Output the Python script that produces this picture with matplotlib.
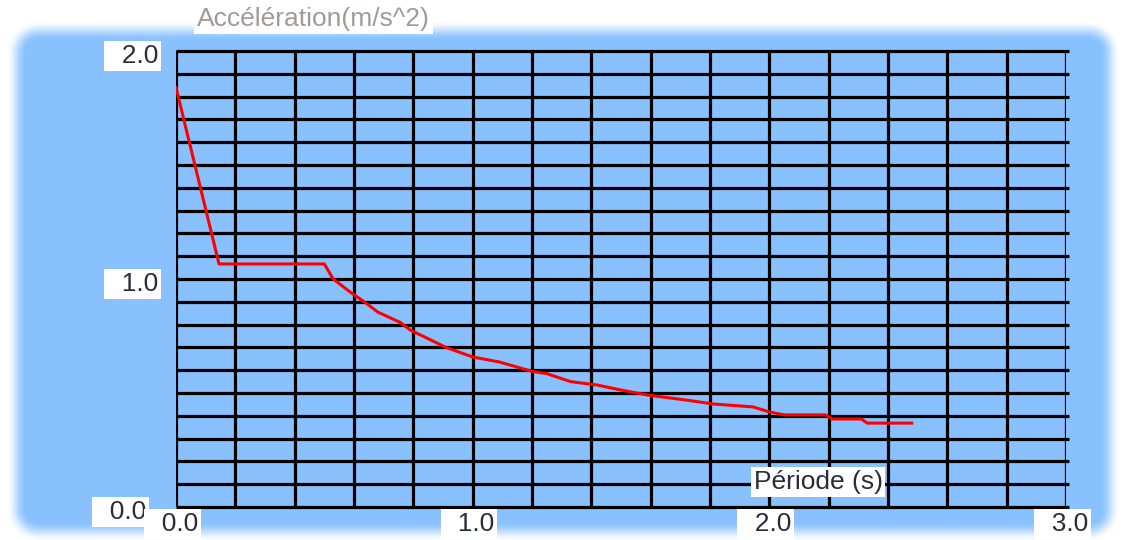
import numpy as np
import matplotlib
matplotlib.use("Agg")
import matplotlib.pyplot as plt
from matplotlib.transforms import offset_copy

plt.rcParams['font.family'] = ['Liberation Sans', 'DejaVu Sans']

# --- data ---
periode = [0.0, 0.145, 0.50, 0.53, 0.59, 0.64, 0.68, 0.755, 0.79, 0.91, 1.00,
           1.09, 1.20, 1.25, 1.33, 1.42, 1.50, 1.59, 1.72, 1.81, 1.945, 2.00,
           2.05, 2.19, 2.21, 2.31, 2.33, 2.48]
acceleration = [1.84, 1.066, 1.066, 1.00, 0.94, 0.895, 0.855, 0.81, 0.776, 0.70, 0.658,
                0.636, 0.595, 0.585, 0.55, 0.535, 0.513, 0.491, 0.469, 0.452, 0.439, 0.417,
                0.404, 0.404, 0.386, 0.386, 0.368, 0.368]
x_ticks = [0.0, 1.0, 2.0, 3.0]
y_ticks = [0.0, 1.0, 2.0]
x_title = "Période (s)"
y_title = "Accélération(m/s^2)"

W, H = 1125, 540
blue = np.array([137, 193, 255]) / 255.0

fig = plt.figure(figsize=(W / 100, H / 100), dpi=100)
fig.patch.set_facecolor("white")

# --- soft rounded blue panel behind everything ---
bg = fig.add_axes([0, 0, 1, 1], zorder=-10)
yy, xx = np.mgrid[0:H, 0:W]
x0, x1, y0, y1, r = 16, 1110, 30, 531, 22
dx = np.maximum(np.maximum(x0 + r - xx, xx - (x1 - r)), 0)
dy = np.maximum(np.maximum(y0 + r - yy, yy - (y1 - r)), 0)
d = np.hypot(dx, dy) - r
a = np.clip(0.5 - d / 20.0, 0, 1)
a = a * a * (3 - 2 * a)
img = np.ones((H, W, 3)) * (1 - a[..., None]) + blue * a[..., None]
bg.imshow(img, extent=[0, W, H, 0], aspect="auto", interpolation="bilinear")
bg.set_xlim(0, W)
bg.set_ylim(H, 0)
bg.axis("off")

# --- main plot ---
left, right, top, bottom = 176, 1066, 51, 507
ax = fig.add_axes([left / W, 1 - bottom / H, (right - left) / W, (bottom - top) / H])
ax.patch.set_alpha(0)
ax.set_xlim(0, 3.0)
ax.set_ylim(0, 2.0)

for v in np.arange(0, 3.01, 0.2):
    ax.axvline(v, color="black", lw=2.3, zorder=1)
for v in np.arange(0, 2.01, 0.1):
    ax.plot([0, 3.01], [v, v], color="black", lw=2.3, zorder=1, clip_on=False,
            solid_capstyle="butt")
for s in ax.spines.values():
    s.set_visible(False)
ax.set_xticks([])
ax.set_yticks([])

ax.plot(periode, acceleration, color="red", lw=2.2, zorder=3)

txt_col = "#2b2b3b"
fs = 19
box = dict(boxstyle="square,pad=0.1", facecolor="white", edgecolor="none")

for v in y_ticks:
    dxo = -30 if v == 0 else -18
    ytr = offset_copy(ax.get_yaxis_transform(), fig=fig, x=dxo, y=-5, units="dots")
    ax.text(0, v, "  %.1f" % v, transform=ytr, ha="right", va="center",
            fontsize=fs, color=txt_col, bbox=box, clip_on=False, zorder=4)

xtr = offset_copy(ax.get_xaxis_transform(), fig=fig, x=22, y=-17, units="dots")
for v in x_ticks:
    ax.text(v, 0, "  %.1f" % v, transform=xtr, ha="right", va="center",
            fontsize=fs, color=txt_col, bbox=box, clip_on=False, zorder=5)

ax.text(818, H - 482, x_title, transform=None, fontsize=fs, color=txt_col,
        ha="center", va="center", zorder=6,
        bbox=dict(boxstyle="square,pad=0.1", facecolor="white", edgecolor="none"))
fig.text(197 / W, 1 - 19 / H, y_title, fontsize=fs, color="#a39a95",
         ha="left", va="center",
         bbox=dict(boxstyle="square,pad=0.1", facecolor="white", edgecolor="none"))

fig.savefig("out.png", dpi=100)
